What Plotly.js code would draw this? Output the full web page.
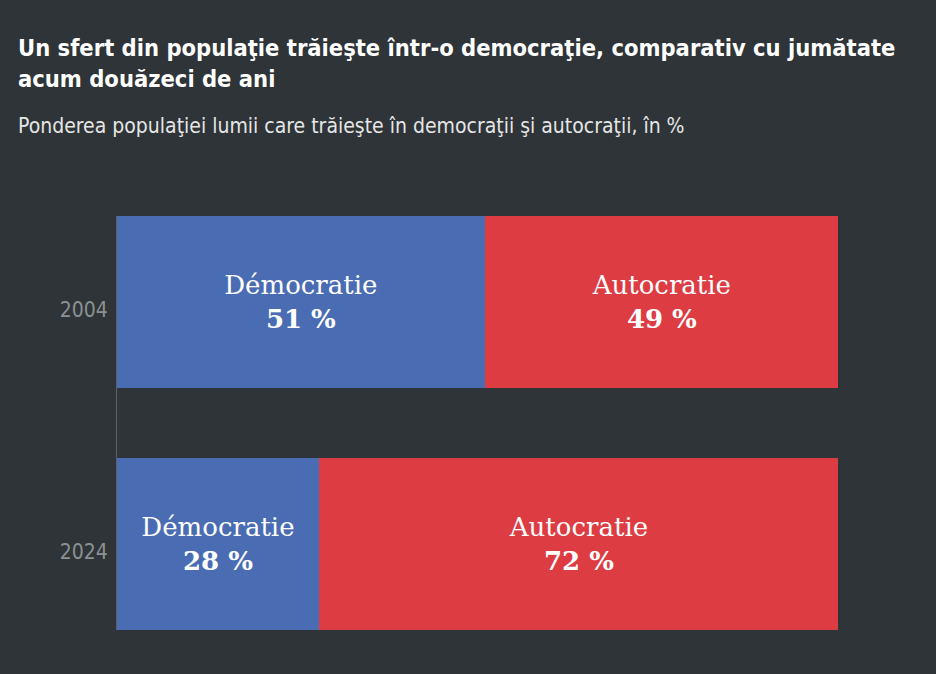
<!DOCTYPE html>
<html>
<head>
<meta charset="utf-8">
<script src="https://cdn.plot.ly/plotly-3.0.1.min.js"></script>
<style>
html,body{margin:0;padding:0;background:#2e3437;}
#chart{width:936px;height:674px;}
</style>
</head>
<body>
<div id="chart"></div>
<script>
const years = ['2004', '2024'];
const seriesNames = ['Démocratie', 'Autocratie'];
const democracy = [51, 28];
const autocracy = [49, 72];
const titleText = '<b>Un sfert din populaţie trăieşte într-o democraţie, comparativ cu jumătate<br>acum douăzeci de ani</b>';
const subtitleText = 'Ponderea populaţiei lumii care trăieşte în democraţii şi autocraţii, în %';

const W = 936, H = 674;
const M = {l: 117, r: 98, t: 216, b: 44};
const plotW = W - M.l - M.r, plotH = H - M.t - M.b;
const px = x => (x - M.l) / plotW;
const py = y => 1 + (M.t - y) / plotH;

const condensed = 'DejaVu Sans Condensed, DejaVu Sans, sans-serif';
const labelFont = {family: 'DejaVu Serif, serif', size: 26, color: '#ffffff'};
const barWidth = 0.71;

function makeTrace(name, values, color) {
  return {
    type: 'bar',
    orientation: 'h',
    name: name,
    y: years,
    x: values,
    width: barWidth,
    marker: {color: color, line: {width: 0}},
    text: values.map(() => name),
    texttemplate: '%{text}<br><b>%{x} %</b>',
    textposition: 'inside',
    insidetextanchor: 'middle',
    insidetextfont: labelFont,
    textfont: labelFont,
    constraintext: 'none',
    hoverinfo: 'none'
  };
}

const data = [
  makeTrace(seriesNames[0], democracy, '#4a6cb3'),
  makeTrace(seriesNames[1], autocracy, '#dc3c42')
];

const layout = {
  width: W,
  height: H,
  paper_bgcolor: '#2e3437',
  plot_bgcolor: '#2e3437',
  barmode: 'stack',
  showlegend: false,
  margin: M,
  annotations: [{
    text: titleText,
    xref: 'paper', yref: 'paper',
    x: px(16), xanchor: 'left',
    y: py(63), yanchor: 'middle',
    align: 'left',
    showarrow: false,
    font: {family: condensed, size: 23.5, color: '#ffffff'}
  }, {
    text: subtitleText,
    xref: 'paper', yref: 'paper',
    x: px(16), xanchor: 'left',
    y: py(126), yanchor: 'middle',
    align: 'left',
    showarrow: false,
    font: {family: condensed, size: 21, color: '#e6e6e6'}
  }],
  xaxis: {
    range: [0, 100],
    showgrid: false, zeroline: false, showticklabels: false, showline: false, fixedrange: true
  },
  yaxis: {
    type: 'category',
    range: [1 + barWidth / 2, -barWidth / 2],
    showgrid: false, zeroline: false,
    showline: true, linecolor: '#5b6165', linewidth: 1,
    ticks: '', ticklabelstandoff: 4, ticklabelshift: -8,
    tickfont: {family: condensed, size: 21, color: '#8c9193'},
    fixedrange: true
  }
};

Plotly.newPlot('chart', data, layout, {displayModeBar: false, staticPlot: true});
</script>
</body>
</html>
